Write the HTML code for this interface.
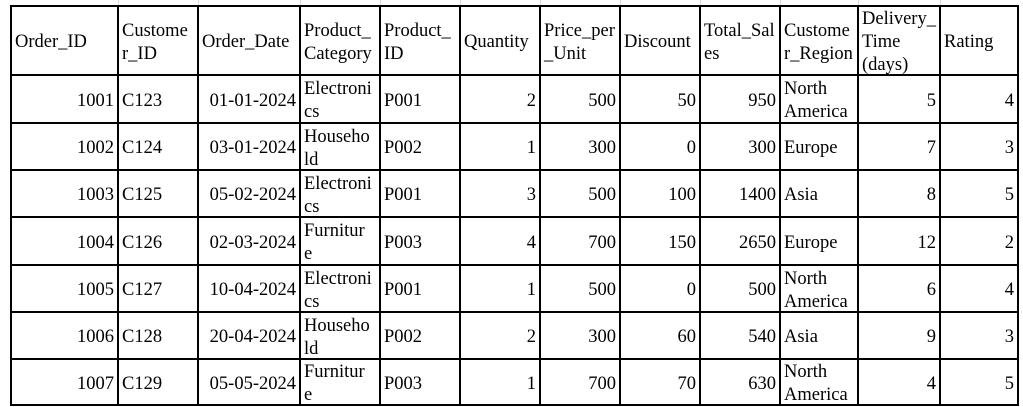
<!DOCTYPE html>
<html><head><meta charset="utf-8"><style>
body{margin:0;width:1023px;height:407px;background:#fff;overflow:hidden;position:relative;font-family:"Liberation Serif",serif;font-size:18.5px;color:#000}
.c{position:absolute;box-sizing:border-box;border:2px solid #000;display:flex;flex-direction:column;justify-content:center;line-height:23px;padding:4px 3px 0 3px;white-space:nowrap;overflow:visible}
.r{align-items:flex-end}
.g{position:absolute;background:#dadada}
</style></head><body>
<div id="t"></div>
<script>
const colX=[11,118,198,300,380,460,540,620,700,780,858,940,1018];
const rowY=[6,75,123,170,217,265,312,359,405];
const headers=[["Order_ID"],["Custome","r_ID"],["Order_Date"],["Product_","Category"],["Product_","ID"],["Quantity"],["Price_per","_Unit"],["Discount"],["Total_Sal","es"],["Custome","r_Region"],["Delivery_","Time","(days)"],["Rating"]];
const rows=[
["1001","C123","01-01-2024","Electroni|cs","P001","2","500","50","950","North|America","5","4"],
["1002","C124","03-01-2024","Househo|ld","P002","1","300","0","300","Europe","7","3"],
["1003","C125","05-02-2024","Electroni|cs","P001","3","500","100","1400","Asia","8","5"],
["1004","C126","02-03-2024","Furnitur|e","P003","4","700","150","2650","Europe","12","2"],
["1005","C127","10-04-2024","Electroni|cs","P001","1","500","0","500","North|America","6","4"],
["1006","C128","20-04-2024","Househo|ld","P002","2","300","60","540","Asia","9","3"],
["1007","C129","05-05-2024","Furnitur|e","P003","1","700","70","630","North|America","4","5"]];
const rightCols=[0,2,5,6,7,8,10,11];
const t=document.getElementById('t');
for(let i=1;i<colX.length-1;i++){const g=document.createElement('div');g.className='g';g.style.cssText=`left:${colX[i]}px;top:0;width:1px;height:6px`;


t.appendChild(g);}
function cell(ci,ri,lines,right){
const d=document.createElement('div');d.className='c'+(right?' r':'');
d.style.cssText=`left:${colX[ci]-1}px;top:${rowY[ri]-1}px;width:${colX[ci+1]-colX[ci]+2}px;height:${rowY[ri+1]-rowY[ri]+2}px`;
lines.forEach(l=>{const s=document.createElement('span');s.textContent=l;d.appendChild(s);});


t.appendChild(d);}
headers.forEach((h,ci)=>cell(ci,0,h,false));
rows.forEach((r,ri)=>r.forEach((v,ci)=>{const ds=v.split('|');cell(ci,ri+1,ds,rightCols.includes(ci)&&ds.length===1);}));
</script>
</body></html>
